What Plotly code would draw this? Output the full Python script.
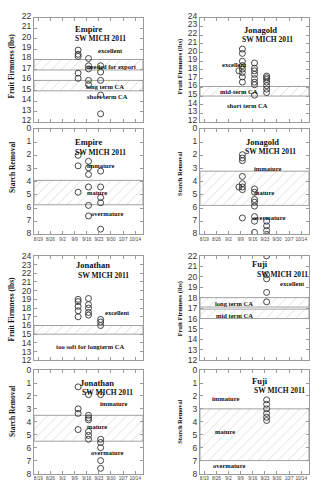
import plotly.graph_objects as go

# ---------------- data ----------------
X_TICK_DATES = ["2011-08-19", "2011-08-26", "2011-09-02", "2011-09-09", "2011-09-16",
                "2011-09-23", "2011-09-30", "2011-10-07", "2011-10-14"]
X_TICK_TEXT = ["8/19", "8/26", "9/2", "9/9", "9/16", "9/23", "9/30", "10/7", "10/14"]

EMPIRE_DATES = ["2011-09-11", "2011-09-17", "2011-09-24"]
EMPIRE_FIRM = [[18.9, 18.5, 18.3, 16.7, 16.2],
               [18.1, 17.4, 17.1, 16.0, 15.6],
               [17.4, 16.8, 16.0, 14.6, 12.8]]
EMPIRE_STARCH = [[2.0, 2.8, 4.8],
                 [2.45, 2.95, 3.45, 4.4, 5.8, 6.6],
                 [3.2, 4.4, 5.2, 5.6, 7.6]]

JONAGOLD_DATES = ["2011-09-08", "2011-09-10", "2011-09-17", "2011-09-24"]
JONAGOLD_FIRM = [[17.9],
                 [20.4, 19.9, 19.0, 18.5, 18.1, 17.7, 17.2, 16.6],
                 [18.8, 18.2, 17.9, 17.5, 17.0, 16.6, 16.3, 15.1],
                 [17.3, 17.1, 16.9, 16.6, 16.2, 15.8, 15.4]]
JONAGOLD_STARCH = [[4.4],
                   [1.95, 2.2, 2.4, 3.6, 4.15, 4.4, 4.6, 6.75],
                   [4.55, 4.8, 5.35, 5.55, 5.85, 6.65, 7.0, 7.85],
                   [7.0, 7.35, 7.7, 8.0]]

JONATHAN_DATES = ["2011-09-11", "2011-09-17", "2011-09-24"]
JONATHAN_FIRM = [[19.0, 18.75, 18.2, 17.7, 17.0],
                 [19.1, 18.4, 18.0, 17.5, 17.2],
                 [16.7, 16.4, 16.0]]
JONATHAN_STARCH = [[1.3, 3.0, 3.35, 4.6],
                   [1.9, 3.5, 3.7, 3.85, 4.75, 5.05, 5.35],
                   [1.9, 5.35, 5.6, 6.0, 7.0, 7.6]]

FUJI_DATES = ["2011-09-24"]
FUJI_FIRM = [[22.0, 20.2, 19.8, 18.5, 17.6]]
FUJI_STARCH = [[2.3, 2.65, 3.0, 3.35, 3.65, 3.9]]

# threshold bands (low, high)
EMPIRE_FIRM_BANDS = [(17.0, 18.0), (15.0, 16.0)]
EMPIRE_STARCH_BANDS = [(3.9, 5.75)]
JONAGOLD_FIRM_BANDS = [(15.0, 16.1)]
JONAGOLD_STARCH_BANDS = [(3.2, 5.8)]
JONATHAN_FIRM_BANDS = [(15.0, 16.0)]
JONATHAN_STARCH_BANDS = [(3.5, 5.5)]
FUJI_FIRM_BANDS = [(17.1, 18.0), (16.0, 16.9)]
FUJI_STARCH_BANDS = [(3.0, 7.0)]

X_RANGE = ["2011-08-16 12:00", "2011-10-18 12:00"]

# ---------------- layout helpers ----------------
W, H = 324, 500
LEFT_PX = (34, 143)
RIGHT_PX = (200, 309)
ROWS_PX = [(11, 118), (125, 233), (255, 362), (372, 478)]
ROW_LABEL_SHIFT = [-2, 1, 0, 0]


def xdom(px):
    return [px[0] / W, px[1] / W]


def ydom(px):
    return [1 - px[1] / H, 1 - px[0] / H]


PANELS = [
    (EMPIRE_DATES, EMPIRE_FIRM, EMPIRE_FIRM_BANDS, [12, 22], 0, 0, False),
    (JONAGOLD_DATES, JONAGOLD_FIRM, JONAGOLD_FIRM_BANDS, [12, 24], 1, 0, False),
    (EMPIRE_DATES, EMPIRE_STARCH, EMPIRE_STARCH_BANDS, [8, 0], 0, 1, True),
    (JONAGOLD_DATES, JONAGOLD_STARCH, JONAGOLD_STARCH_BANDS, [8, 0], 1, 1, True),
    (JONATHAN_DATES, JONATHAN_FIRM, JONATHAN_FIRM_BANDS, [12, 24], 0, 2, False),
    (FUJI_DATES, FUJI_FIRM, FUJI_FIRM_BANDS, [12, 22], 1, 2, False),
    (JONATHAN_DATES, JONATHAN_STARCH, JONATHAN_STARCH_BANDS, [8, 0], 0, 3, True),
    (FUJI_DATES, FUJI_STARCH, FUJI_STARCH_BANDS, [8, 0], 1, 3, True),
]

fig = go.Figure()
FRAME = "#9a9a9a"
TICKFONT = dict(family="Liberation Sans, Arial", size=8.5, color="#333")

for i, (dates, vals, bands, yr, col, row, starch) in enumerate(PANELS):
    n = i + 1
    xa = "x" if n == 1 else f"x{n}"
    ya = "y" if n == 1 else f"y{n}"
    for lo, hi in bands:
        fig.add_trace(go.Scatter(
            x=[X_RANGE[0], X_RANGE[1], X_RANGE[1], X_RANGE[0], X_RANGE[0]],
            y=[lo, lo, hi, hi, lo],
            mode="lines", fill="toself",
            fillcolor="white",
            fillpattern=dict(shape="/", fgcolor="#b0b0b0", bgcolor="white",
                             size=7, solidity=0.12),
            line=dict(color="#8a8a8a", width=0.8),
            xaxis=xa, yaxis=ya, showlegend=False, hoverinfo="skip"))
    xs, ys = [], []
    for d, vs in zip(dates, vals):
        for v in vs:
            xs.append(d)
            ys.append(v)
    fig.add_trace(go.Scatter(
        x=xs, y=ys, mode="markers",
        marker=dict(symbol="circle-open", size=6, color="#333",
                    line=dict(width=0.9, color="#333")),
        xaxis=xa, yaxis=ya, showlegend=False))

    xpx = LEFT_PX if col == 0 else RIGHT_PX
    xkey = "xaxis" if n == 1 else f"xaxis{n}"
    ykey = "yaxis" if n == 1 else f"yaxis{n}"
    fig.layout[xkey] = dict(
        domain=xdom(xpx), anchor=ya, type="date", range=X_RANGE,
        tickvals=X_TICK_DATES, ticktext=X_TICK_TEXT,
        showticklabels=starch, tickangle=0,
        tickfont=dict(family="Liberation Sans, Arial", size=4.6, color="#444"),
        ticks="inside", ticklen=3, tickcolor=FRAME, tickwidth=0.8,
        showline=True, linecolor=FRAME, linewidth=1, mirror="allticks",
        showgrid=False, zeroline=False, fixedrange=True)
    fig.layout[ykey] = dict(
        domain=ydom(ROWS_PX[row]), anchor=xa, range=yr, dtick=1,
        tickfont=TICKFONT, ticklabelshift=ROW_LABEL_SHIFT[row],
        ticks="inside", ticklen=3, tickcolor=FRAME, tickwidth=0.8,
        showline=True, linecolor=FRAME, linewidth=1, mirror="allticks",
        showgrid=False, zeroline=False, fixedrange=True)

# ---------------- annotations ----------------
SERIF = "Liberation Serif, Times New Roman"
ann = []


def txt(panel, px, y, text, size=6.5):
    col = PANELS[panel - 1][4]
    x0, x1 = LEFT_PX if col == 0 else RIGHT_PX
    xa = "x" if panel == 1 else f"x{panel}"
    ya = "y" if panel == 1 else f"y{panel}"
    ann.append(dict(xref=f"{xa} domain", yref=ya, x=(px - x0) / (x1 - x0), y=y,
                    text=f"<b>{text}</b>", showarrow=False,
                    font=dict(family=SERIF, size=size, color="#111"),
                    xanchor="center", yanchor="middle"))


def title(xpx, ypx, text, size):
    ann.append(dict(xref="paper", yref="paper", x=xpx / W, y=1 - ypx / H,
                    text=f"<b>{text}</b>", showarrow=False, textangle=-90,
                    font=dict(family=SERIF, size=size, color="#111"),
                    xanchor="center", yanchor="middle"))


# Empire firmness
txt(1, 88, 20.95, "Empire", 8.5)
txt(1, 100, 20.0, "SW MICH 2011", 7.5)
txt(1, 110, 18.9, "excellent")
txt(1, 112, 17.35, "needed for export")
txt(1, 105, 15.45, "long term CA")
txt(1, 107, 14.5, "short term CA")
# Jonagold firmness
txt(2, 260, 22.6, "Jonagold", 8.5)
txt(2, 267, 21.45, "SW MICH 2011", 7.5)
txt(2, 234, 18.6, "excellent")
txt(2, 239, 15.5, "mid-term CA")
txt(2, 247, 13.9, "short term CA")
# Empire starch
txt(3, 88, 1.0, "Empire", 8.5)
txt(3, 100, 1.75, "SW MICH 2011", 7.5)
txt(3, 100, 2.75, "immature")
txt(3, 97, 4.8, "mature")
txt(3, 107, 6.45, "overmature")
# Jonagold starch
txt(4, 262, 1.0, "Jonagold", 8.5)
txt(4, 270, 1.7, "SW MICH 2011", 7.5)
txt(4, 267, 3.0, "immature")
txt(4, 264, 4.85, "mature")
txt(4, 269, 6.7, "overmature")
# Jonathan firmness
txt(5, 93, 22.9, "Jonathan", 8.5)
txt(5, 103, 21.75, "SW MICH 2011", 7.5)
txt(5, 117, 17.5, "excellent")
txt(5, 90, 13.6, "too soft for longterm CA")
# Fuji firmness
txt(6, 260, 21.25, "Fuji", 8.5)
txt(6, 282, 20.25, "SW MICH 2011", 7.5)
txt(6, 292, 19.4, "excellent")
txt(6, 234, 17.4, "long term CA")
txt(6, 234, 16.3, "mid term CA")
# Jonathan starch
txt(7, 97, 1.0, "Jonathan", 8.5)
txt(7, 107, 1.7, "SW MICH 2011", 7.5)
txt(7, 113, 2.6, "immature")
txt(7, 97, 4.4, "mature")
txt(7, 107, 6.4, "overmature")
# Fuji starch
txt(8, 260, 0.85, "Fuji", 8.5)
txt(8, 279, 1.6, "SW MICH 2011", 7.5)
txt(8, 225, 2.2, "immature")
txt(8, 225, 4.75, "mature")
txt(8, 229, 7.35, "overmature")

# axis titles
title(12, 61, "Fruit Firmness (lbs)", 7.5)
title(12, 165, "Starch Removal", 7.5)
title(12, 310, "Fruit Firmness (lbs)", 7.5)
title(12, 415, "Starch Removal", 7.5)
title(180, 61, "Fruit Firmness (lbs)", 6.5)
title(180, 171, "Starch Removal", 6.5)
title(180, 309, "Fruit Firmness (lbs)", 6.5)
title(180, 425, "Starch Removal", 6.5)

fig.update_layout(
    width=W, height=H, margin=dict(l=0, r=0, t=0, b=0),
    paper_bgcolor="white", plot_bgcolor="white",
    annotations=ann, showlegend=False)

fig.write_html("out.html", config={"displayModeBar": False})
